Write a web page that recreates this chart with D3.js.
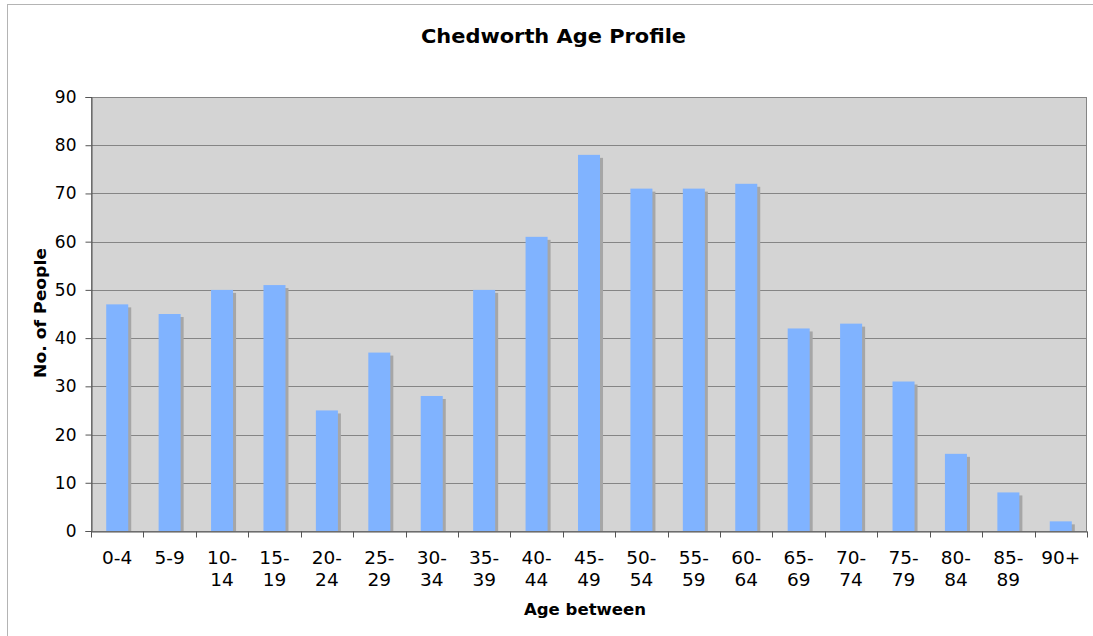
<!DOCTYPE html>
<html><head><meta charset="utf-8">
<script src="https://cdn.jsdelivr.net/npm/d3@7"></script>
<style>body{margin:0;background:#fff}svg{display:block}text{font-family:"DejaVu Sans",Verdana,sans-serif;fill:#000}</style>
</head><body>
<svg id="c" width="1093" height="636"></svg>
<script>
const categories = ["0-4","5-9","10-14","15-19","20-24","25-29","30-34","35-39","40-44","45-49","50-54","55-59","60-64","65-69","70-74","75-79","80-84","85-89","90+"];
const values = [47,45,50,51,25,37,28,50,61,78,71,71,72,42,43,31,16,8,2];
const yTicks = [0,10,20,30,40,50,60,70,80,90];
const title = "Chedworth Age Profile";
const xTitle = "Age between";
const yTitle = "No. of People";

const svg = d3.select("#c");
const L = 91, R = 1087, T = 97, B = 531;

svg.append("rect").attr("x",7.5).attr("y",4.5).attr("width",1200).attr("height",800)
  .attr("fill","none").attr("stroke","#b4b4b4").attr("stroke-width",1);

const x = d3.scaleBand().domain(categories).range([L,R]).paddingInner(0.58).paddingOuter(0.29).align(0.5);
const xb = d3.scaleBand().domain(categories).range([L,R]);
const y = d3.scaleLinear().domain([0,90]).range([B,T]);

svg.append("rect").attr("x",L).attr("y",T).attr("width",R-L).attr("height",B-T).attr("fill","#d4d4d4");

// gridlines
svg.append("g").selectAll("line").data(yTicks).join("line")
  .attr("x1",L).attr("x2",R).attr("y1",d=>Math.round(y(d))+0.5).attr("y2",d=>Math.round(y(d))+0.5)
  .attr("stroke","#858585").attr("stroke-width",1);

// shadows
svg.append("g").selectAll("rect").data(values).join("rect")
  .attr("x",(d,i)=>x(categories[i])+3).attr("y",d=>y(d)+3)
  .attr("width",x.bandwidth()).attr("height",d=>B-y(d)-3)
  .attr("fill","#a6a6a6");
// bars
svg.append("g").selectAll("rect").data(values).join("rect")
  .attr("x",(d,i)=>x(categories[i])).attr("y",d=>y(d))
  .attr("width",x.bandwidth()).attr("height",d=>B-y(d))
  .attr("fill","#80b3ff");

// plot border
svg.append("rect").attr("x",L+0.5).attr("y",T+0.5).attr("width",R-L-1).attr("height",B-T)
  .attr("fill","none").attr("stroke","#858585");

// y axis
const ya = svg.append("g").attr("transform",`translate(${L+0.5},0)`)
  .call(d3.axisLeft(y).tickValues(yTicks).tickSize(6).tickPadding(9).tickFormat(d3.format("d")));
ya.select(".domain").attr("stroke","#555");
ya.selectAll(".tick line").attr("stroke","#555");
ya.selectAll("text").attr("font-size","17px").attr("font-family","DejaVu Sans").attr("fill","#111");

// x axis
const xa = svg.append("g").attr("transform",`translate(0,${B+0.5})`)
  .call(d3.axisBottom(xb).tickSize(0).tickFormat(""));
xa.select(".domain").attr("stroke","#555");
xa.append("g").selectAll("line").data(d3.range(categories.length+1)).join("line")
  .attr("x1",i=>Math.round(L+i*xb.step())+0.5).attr("x2",i=>Math.round(L+i*xb.step())+0.5)
  .attr("y1",0).attr("y2",6).attr("stroke","#555");

const labels = svg.append("g").selectAll("text").data(categories).join("text")
  .attr("text-anchor","middle").attr("font-size","18.5px").attr("fill","#111")
  .attr("x",d=>xb(d)+xb.bandwidth()/2);
labels.each(function(d){
  const t = d3.select(this);
  const short = d.split("-")[0].length===1 || !d.includes("-");
  const parts = short ? [d] : [d.split("-")[0]+"-", d.split("-")[1]];
  parts.forEach((p,k)=>t.append("tspan").attr("x",t.attr("x")).attr("y",564+k*22).text(p));
});

svg.append("text").attr("x",553.5).attr("y",43).attr("text-anchor","middle")
  .attr("font-size","20px").attr("font-weight","bold")
  .attr("textLength",265).attr("lengthAdjust","spacingAndGlyphs").text(title);
svg.append("text").attr("x",585).attr("y",615).attr("text-anchor","middle")
  .attr("font-size","16.5px").attr("font-weight","bold")
  .attr("textLength",122).attr("lengthAdjust","spacingAndGlyphs").text(xTitle);
svg.append("text").attr("transform","translate(46,313) rotate(-90)").attr("text-anchor","middle")
  .attr("font-size","16px").attr("font-weight","bold")
  .attr("textLength",130).attr("lengthAdjust","spacingAndGlyphs").text(yTitle);
</script>
</body></html>
